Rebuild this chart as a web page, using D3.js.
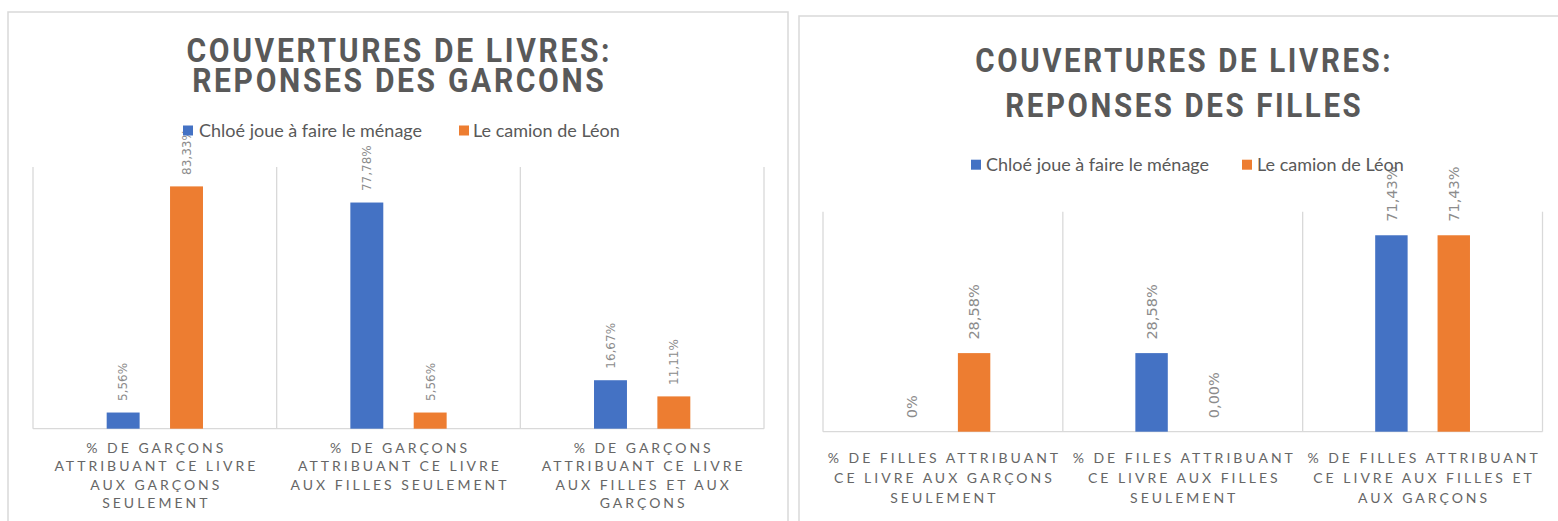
<!DOCTYPE html>
<html><head><meta charset="utf-8">
<script src="https://cdn.jsdelivr.net/npm/d3@7"></script>
<style>body{margin:0;background:#fff}</style>
</head><body>
<svg id="c" width="1558" height="521"></svg>
<script>
// ---- data ----
const seriesNames = ["Chloé joue à faire le ménage", "Le camion de Léon"];
const seriesColors = ["#4472C4", "#ED7D31"];

const boysTitle = ["COUVERTURES DE LIVRES:", "REPONSES DES GARCONS"];
const boysCategories = [
  "% DE GARÇONS\nATTRIBUANT CE LIVRE\nAUX GARÇONS\nSEULEMENT",
  "% DE GARÇONS\nATTRIBUANT CE LIVRE\nAUX FILLES SEULEMENT",
  "% DE GARÇONS\nATTRIBUANT CE LIVRE\nAUX FILLES ET AUX\nGARÇONS"
];
const boysChloe = [0.0556, 0.7778, 0.1667];
const boysCamion = [0.8333, 0.0556, 0.1111];
const boysChloeLabels = ["5,56%", "77,78%", "16,67%"];
const boysCamionLabels = ["83,33%", "5,56%", "11,11%"];

const girlsTitle = ["COUVERTURES DE LIVRES:", "REPONSES DES FILLES"];
const girlsCategories = [
  "% DE FILLES ATTRIBUANT\nCE LIVRE AUX GARÇONS\nSEULEMENT",
  "% DE FILES ATTRIBUANT\nCE LIVRE AUX FILLES\nSEULEMENT",
  "% DE FILLES ATTRIBUANT\nCE LIVRE AUX FILLES ET\nAUX GARÇONS"
];
const girlsChloe = [0, 0.2858, 0.7143];
const girlsCamion = [0.2858, 0, 0.7143];
const girlsChloeLabels = ["0%", "28,58%", "71,43%"];
const girlsCamionLabels = ["28,58%", "0,00%", "71,43%"];

// ---- layout ----
const panels = [
  {
    title: boysTitle, categories: boysCategories,
    values: [boysChloe, boysCamion], labels: [boysChloeLabels, boysCamionLabels],
    frame: {x: 8, y: 12, w: 780, h: 540},
    titleCx: 398, titleY: [61.7, 91.7], titleW: 426,
    legendY: 136.5, legendSq: [183, 459], legendTx: [199, 473], legendFont: 18,
    px0: 33, px1: 764, pTop: 167, pBase: 428.7, yMax: 0.9,
    lblFont: 12, lblGap: 11.5,
    axY: 453, axLH: 18.3
  },
  {
    title: girlsTitle, categories: girlsCategories,
    values: [girlsChloe, girlsCamion], labels: [girlsChloeLabels, girlsCamionLabels],
    frame: {x: 799, y: 16, w: 800, h: 540},
    titleCx: 1183, titleY: [71.7, 116.7], titleW: 418,
    legendY: 170.7, legendSq: [971, 1242], legendTx: [986, 1257], legendFont: 18,
    px0: 823, px1: 1542.5, pTop: 211.7, pBase: 431.7, yMax: 0.8,
    lblFont: 14.5, lblGap: 13.5,
    axY: 462.5, axLH: 20.2
  }
];

const svg = d3.select("#c");
svg.append("rect").attr("width", 1558).attr("height", 521).attr("fill", "#fff");

panels.forEach(p => {
  const g = svg.append("g");
  g.append("rect")
    .attr("x", p.frame.x).attr("y", p.frame.y)
    .attr("width", p.frame.w).attr("height", p.frame.h)
    .attr("fill", "#fff").attr("stroke", "#d9d9d9").attr("stroke-width", 1.5);

  // title (one text element, two lines)
  const tt = g.append("text")
    .attr("font-family", "Roboto, 'Open Sans', sans-serif")
    .attr("font-weight", 700)
    .attr("font-size", 34)
    .attr("letter-spacing", 3)
    .attr("fill", "#595959")
    .attr("text-anchor", "middle");
  const spans = tt.selectAll("tspan").data(p.title).join("tspan")
    .attr("x", 1.5)
    .attr("y", (d, i) => p.titleY[i])
    .text(d => d);
  const w0 = spans.nodes()[0].getComputedTextLength();
  const sx = p.titleW / w0;
  tt.attr("transform", `translate(${p.titleCx},0) scale(${sx},1)`);

  // scales
  const x0 = d3.scaleBand().domain(d3.range(p.categories.length)).range([p.px0, p.px1]).padding(0);
  const x1 = d3.scaleBand().domain(d3.range(seriesNames.length)).range([0, x0.bandwidth()])
    .paddingInner(0.48).paddingOuter(1.163);
  const y = d3.scaleLinear().domain([0, p.yMax]).range([p.pBase, p.pTop]);

  // gridlines (category separators)
  const bounds = d3.range(p.categories.length + 1).map(i => i < p.categories.length ? x0(i) : x0(i - 1) + x0.bandwidth());
  g.selectAll("line.sep").data(bounds).join("line").attr("class", "sep")
    .attr("x1", d => d).attr("x2", d => d)
    .attr("y1", y(p.yMax)).attr("y2", y(0))
    .attr("stroke", "#d9d9d9").attr("stroke-width", 1.3);
  g.append("line")
    .attr("x1", p.px0).attr("x2", p.px1).attr("y1", y(0)).attr("y2", y(0))
    .attr("stroke", "#d9d9d9").attr("stroke-width", 1.3);

  // bars
  const flat = [];
  p.values.forEach((arr, s) => arr.forEach((v, c) => flat.push({s, c, v, label: p.labels[s][c]})));
  g.selectAll("rect.bar").data(flat).join("rect").attr("class", "bar")
    .attr("x", d => x0(d.c) + x1(d.s))
    .attr("width", x1.bandwidth())
    .attr("y", d => y(d.v))
    .attr("height", d => y(0) - y(d.v))
    .attr("fill", d => seriesColors[d.s]);

  // data labels
  g.selectAll("text.lbl").data(flat).join("text").attr("class", "lbl")
    .attr("transform", d => `translate(${x0(d.c) + x1(d.s) + x1.bandwidth() / 2},${y(d.v) - p.lblGap}) rotate(-90)`)
    .attr("dy", "0.36em")
    .attr("font-family", "'DejaVu Sans', sans-serif")
    .attr("font-size", p.lblFont)
    .attr("fill", "#8c8c8c")
    .text(d => d.label);

  // category labels
  const ls = 3;
  p.categories.forEach((cat, c) => {
    const lines = cat.split("\n");
    const t = g.append("text")
      .attr("font-family", "Lato, sans-serif")
      .attr("font-size", 14)
      .attr("letter-spacing", ls)
      .attr("fill", "#666")
      .attr("text-anchor", "middle");
    lines.forEach((ln, i) => {
      t.append("tspan")
        .attr("x", x0(c) + x0.bandwidth() / 2 + ls / 2)
        .attr("y", p.axY + i * p.axLH)
        .text(ln);
    });
  });

  // legend
  seriesNames.forEach((n, s) => {
    g.append("rect")
      .attr("x", p.legendSq[s]).attr("y", p.legendY - 11)
      .attr("width", 10).attr("height", 10)
      .attr("fill", seriesColors[s]);
    g.append("text")
      .attr("x", p.legendTx[s]).attr("y", p.legendY)
      .attr("font-family", "Lato, sans-serif")
      .attr("font-size", p.legendFont)
      .attr("fill", "#595959")
      .text(n);
  });
});
</script>
</body></html>
